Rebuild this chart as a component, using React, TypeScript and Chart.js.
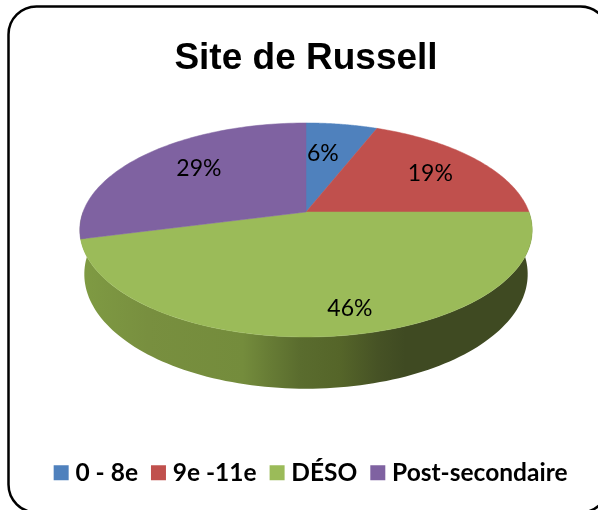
import React, { useEffect, useRef } from "react";
import { Chart, registerables } from "chart.js";

Chart.register(...registerables);

const categories = ["0 - 8e", "9e -11e", "DÉSO", "Post-secondaire"];
const shares = [6, 19, 46, 29];
const sliceColors = ["#4F81BD", "#C0504D", "#9BBB59", "#7F62A1"];
const chartTitle = "Site de Russell";

// Projection of the tilted disc (style only; the angles come from the chart's arcs)
const CX = 306, CY = 212, RX = 223, RY = 104, TILT = 0.168, DEPTH = 43, FLOOR_RX = 0.98;
// Nudges of the value labels, as the original placed them
const labelNudges = [[-10, 7], [0, 1], [21, 12], [11, -1]];
const LABEL_R = 0.72;
const sideStops: [number, string][] = [
  [0, "#7F9B43"], [0.15, "#788F3F"], [0.36, "#748C3C"], [0.42, "#677C35"], [0.487, "#5A6C2E"],
  [0.575, "#556529"], [0.66, "#465225"], [0.72, "#3F4A22"], [1, "#3F4A22"],
];

const proj = (a: number, r = 1, drop = 0, sx = 1) => {
  const u = Math.cos(a) * r, v = Math.sin(a) * r;
  const w = 1 - TILT * v;
  return { x: CX + (RX * sx * u) / w, y: CY + (RY * v) / w + drop / w };
};

const piePlugin = {
  id: "tiltedPie",
  beforeDraw(chart: any) {
    const c = chart.ctx;
    c.save();
    c.fillStyle = "#fff";
    c.fillRect(0, 0, chart.width, chart.height);
    c.beginPath();
    c.roundRect(8.5, 6.5, 600, 506, 28);
    c.lineWidth = 2.5;
    c.strokeStyle = "#000";
    c.stroke();
    c.restore();
  },
  beforeDatasetsDraw(chart: any) {
    const c = chart.ctx;
    const arcs = chart.getDatasetMeta(0).data;
    c.save();
    // side wall, lower half of the disc
    const grad = c.createLinearGradient(80, 0, 532, 0);
    sideStops.forEach(([p, col]) => grad.addColorStop(p, col));
    c.beginPath();
    const N = 120;
    for (let i = 0; i <= N; i++) {
      const p = proj((Math.PI * i) / N);
      i ? c.lineTo(p.x, p.y) : c.moveTo(p.x, p.y);
    }
    for (let i = N; i >= 0; i--) {
      const p = proj((Math.PI * i) / N, 1, DEPTH, FLOOR_RX);
      c.lineTo(p.x, p.y);
    }
    c.closePath();
    c.fillStyle = grad;
    c.fill();
    // top faces
    arcs.forEach((arc: any) => {
      const { startAngle, endAngle } = arc.getProps(["startAngle", "endAngle"]);
      c.beginPath();
      c.moveTo(CX, CY);
      const steps = 80;
      for (let i = 0; i <= steps; i++) {
        const p = proj(startAngle + ((endAngle - startAngle) * i) / steps);
        c.lineTo(p.x, p.y);
      }
      c.closePath();
      c.fillStyle = arc.options.backgroundColor;
      c.strokeStyle = arc.options.backgroundColor;
      c.lineWidth = 0.5;
      c.fill();
      c.stroke();
    });
    // value labels
    c.fillStyle = "#000";
    c.font = "23px Lato";
    c.textAlign = "center";
    c.textBaseline = "middle";
    arcs.forEach((arc: any, i: number) => {
      const { startAngle, endAngle } = arc.getProps(["startAngle", "endAngle"]);
      const p = proj((startAngle + endAngle) / 2, LABEL_R);
      c.fillText(shares[i] + "%", p.x + labelNudges[i][0], p.y + labelNudges[i][1]);
    });
    c.restore();
    return false;
  },
};

export default function App() {
  const ref = useRef<HTMLCanvasElement>(null);
  useEffect(() => {
    const chart = new Chart(ref.current!, {
      type: "pie",
      data: {
        labels: categories,
        datasets: [{ data: shares, backgroundColor: sliceColors, borderWidth: 0 }],
      },
      plugins: [piePlugin],
      options: {
        responsive: false,
        animation: false,
        layout: { padding: { left: 26, right: 12, top: 0, bottom: 15 } },
        plugins: {
          tooltip: { enabled: false },
          title: {
            display: true,
            text: chartTitle,
            color: "#000",
            font: { family: "'Liberation Sans'", size: 37, weight: "bold" },
            padding: { top: 37, bottom: 20 },
          },
          legend: {
            position: "bottom",
            align: "end",
            labels: {
              color: "#000",
              font: { family: "Lato", size: 24.5, weight: "bold" },
              usePointStyle: true,
              pointStyle: "rect",
              boxHeight: 15,
              boxWidth: 4,
              padding: 18.5,
            },
          },
        },
      },
    });
    return () => chart.destroy();
  }, []);
  return (
    <div style={{ position: "fixed", left: 0, top: 0 }}>
      <canvas ref={ref} width={598} height={510} style={{ display: "block" }} />
    </div>
  );
}
